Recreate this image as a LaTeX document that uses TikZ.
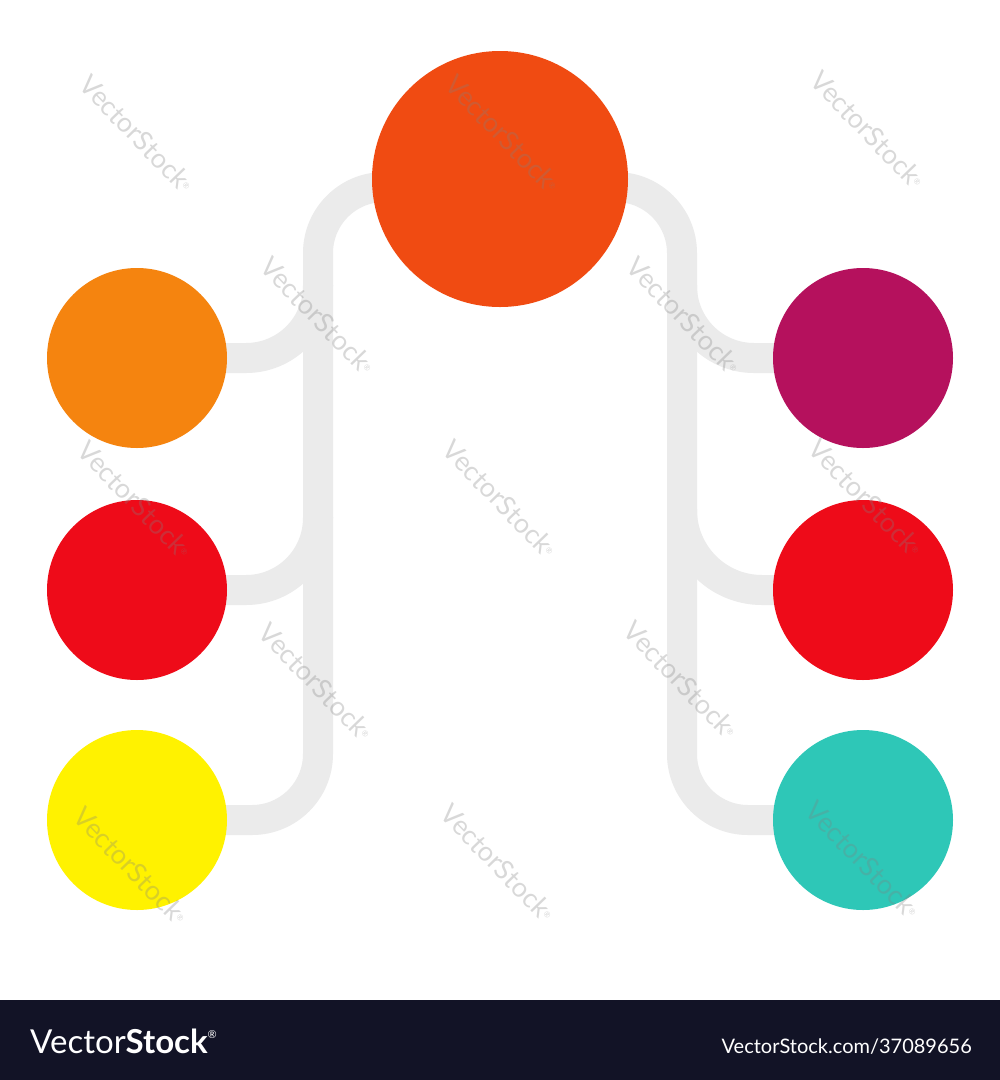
\documentclass[tikz,border=0pt]{standalone}
\usepackage{fontspec}
\setmainfont{Lato}
\usetikzlibrary{backgrounds}
\definecolor{cTop}{HTML}{F04B12}
\definecolor{cOrange}{HTML}{F5840F}
\definecolor{cRed}{HTML}{EE0B19}
\definecolor{cYellow}{HTML}{FFF200}
\definecolor{cPurple}{HTML}{B5115D}
\definecolor{cTeal}{HTML}{2EC7B7}
\definecolor{cBand}{HTML}{EBEBEB}
\definecolor{cBar}{HTML}{121326}
\begin{document}
\begin{tikzpicture}[x=1pt,y=-1pt,
  dot/.style={circle,inner sep=0pt,minimum size=#1},
  band/.style={draw=cBand,line width=30pt,line join=round},
  wmark/.style={rotate=-46,text=black!50,opacity=0.30,inner sep=0pt,
    font=\fontsize{27}{27}\selectfont}]
\useasboundingbox (0,0) rectangle (1000,1080);
% circles
\node[dot=256pt,fill=cTop] (top) at (500,179) {};
\node[dot=180pt,fill=cOrange] (l1) at (137,358) {};
\node[dot=180pt,fill=cRed] (l2) at (137,590) {};
\node[dot=180pt,fill=cYellow] (l3) at (137,820) {};
\node[dot=180pt,fill=cPurple] (r1) at (863,358) {};
\node[dot=180pt,fill=cRed] (r2) at (863,590) {};
\node[dot=180pt,fill=cTeal] (r3) at (863,820) {};
\coordinate (L) at (318,0);
\coordinate (R) at (682,0);
\begin{scope}[on background layer]
  \fill[white] (0,0) rectangle (1000,1080);
  % branches
  \draw[band,rounded corners=72pt] (l1.center) -- (l1.center -| L) -- ([yshift=73pt]l1.center -| L);
  \draw[band,rounded corners=72pt] (l2.center) -- (l2.center -| L) -- ([yshift=73pt]l2.center -| L);
  \draw[band,rounded corners=72pt] (r1.center) -- (r1.center -| R) -- ([yshift=73pt]r1.center -| R);
  \draw[band,rounded corners=80pt] (r2.center) -- (r2.center -| R) -- ([yshift=81pt]r2.center -| R);
  % trunks
  \draw[band] ([yshift=-8pt]top.center) -- ++(-116,0)
     .. controls +(-36.4,0) and +(0,-36.4) .. ++(-66,66)
     -- ([yshift=66pt]l3.center -| L)
     .. controls +(0,36.4) and +(36.4,0) .. ++(-66,66)
     -- (l3.center);
  \draw[band] ([yshift=-8pt]top.center) -- ++(116,0)
     .. controls +(36.4,0) and +(0,-36.4) .. ++(66,66)
     -- ([yshift=66pt]r3.center -| R)
     .. controls +(0,36.4) and +(-36.4,0) .. ++(66,66)
     -- (r3.center);
\end{scope}
% watermarks
\foreach \x/\y [count=\i] in {137/134,503/134,868/130,
  318/316,684/316,
  135/500,500/499,866/498,
  316/682,681/680,
  131/866,498/863,863/860}
  \node[wmark] (wm\i) at (\x,\y) {VectorStock\raisebox{6pt}{\fontsize{8}{8}\selectfont ®}};
% bottom bar
\fill[cBar] (0,1000) rectangle (1000,1080);
\node[anchor=base west,text=white,inner sep=0pt,font=\fontsize{33}{33}\selectfont] (brand) at (30,1053)
  {Vector\textbf{Stock}\raisebox{15pt}{\fontsize{11}{11}\selectfont ®}};
\node[anchor=base east,text=white,inner sep=0pt,font=\fontsize{20}{20}\selectfont] (url) at (972,1053)
  {VectorStock.com/37089656};
\end{tikzpicture}
\end{document}
